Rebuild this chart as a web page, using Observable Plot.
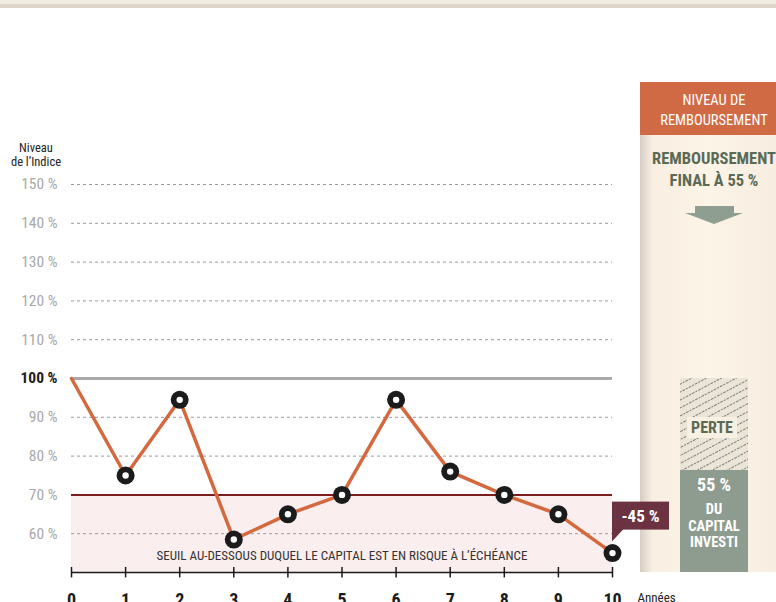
<!DOCTYPE html>
<html><head><meta charset="utf-8">
<script src="https://cdn.jsdelivr.net/npm/d3@7"></script>
<script src="https://cdn.jsdelivr.net/npm/@observablehq/plot@0.6"></script>
<style>
body{margin:0;background:#fff;}
#chart{position:relative;width:776px;height:602px;overflow:hidden;}
svg{display:block;}
</style></head><body>
<div id="chart"></div>
<script>
const years = [0,1,2,3,4,5,6,7,8,9,10];
const indexLevel = [100,75,94.5,58.5,65,70,94.5,76,70,65,55];
const gridTicks = [60,80,90,110,120,130,140,150];
const grayTickLabels = [60,70,80,90,110,120,130,140,150];
const boldTickLabels = [100];
const initialLevel = 100;
const barrierLevel = 70;
const finalLevel = 55;
const lossLabel = "-45 %";
const barrierText = "SEUIL AU-DESSOUS DUQUEL LE CAPITAL EST EN RISQUE À L’ÉCHÉANCE";

const data = years.map((y,i)=>({year:y, level:indexLevel[i]}));
const FONT = "'Liberation Sans Narrow','Roboto Condensed',Roboto,sans-serif";

const chart = Plot.plot({
  width:776, height:602,
  marginLeft:71, marginRight:164, marginTop:184, marginBottom:30,
  style:{fontFamily:FONT, background:"transparent", overflow:"visible"},
  x:{domain:[0,10], axis:null},
  y:{domain:[50,150], axis:null},
  marks:[
    Plot.rect([{x1:0,x2:10,y1:50,y2:barrierLevel}], {x1:"x1",x2:"x2",y1:"y1",y2:"y2",fill:"#fbeeee"}),
    Plot.ruleY(gridTicks, {x1:0, x2:10, stroke:"#9a9a9a", strokeWidth:1, strokeDasharray:"3,3"}),
    Plot.ruleY([initialLevel], {x1:0, x2:10, stroke:"#a9a9a9", strokeWidth:3}),
    Plot.ruleY([barrierLevel], {x1:0, x2:10, stroke:"#7b1c1e", strokeWidth:2}),
    Plot.ruleY([50], {x1:0, x2:10, stroke:"#1b1b1b", strokeWidth:1.5}),
    Plot.ruleX(years, {y1:51.3, y2:48.6, stroke:"#1b1b1b", strokeWidth:1.5}),
    Plot.text(years, {x:d=>d, y:50, dy:21, lineAnchor:"top", text:d=>String(d), fontSize:18, fontWeight:"bold", fill:"#1b1b1b"}),
    Plot.text(["Années"], {x:10, y:50, dx:25, dy:25, textAnchor:"start", text:d=>d, fontSize:13, fill:"#222"}),
    Plot.text(grayTickLabels, {x:0, y:d=>d, dx:-14, textAnchor:"end", text:d=>d+" %", fontSize:15.5, fill:"#a8a8a8"}),
    Plot.text(boldTickLabels, {x:0, y:d=>d, dx:-14, textAnchor:"end", text:d=>d+" %", fontSize:15.5, fontWeight:"bold", fill:"#1b1b1b"}),
    Plot.text([barrierText], {x:5, y:54.2, text:d=>d, fontSize:13, fill:"#333"}),
    Plot.line(data, {x:"year", y:"level", stroke:"#d4693f", strokeWidth:3.5}),
    Plot.dot(data.filter(d=>d.year>0), {x:"year", y:"level", r:9, fill:"#1b1b1b"}),
    Plot.dot(data.filter(d=>d.year>0), {x:"year", y:"level", r:3.2, fill:"#fff"})
  ]
});
document.getElementById("chart").appendChild(chart);

const svg = d3.select(chart);
const xs = chart.scale("x"), ys = chart.scale("y");

svg.append("text").attr("x",36).attr("y",152).attr("text-anchor","middle").attr("font-size",12.5).attr("fill","#222").attr("font-family",FONT).text("Niveau");
svg.append("text").attr("x",36).attr("y",166).attr("text-anchor","middle").attr("font-size",12.5).attr("fill","#222").attr("font-family",FONT).text("de l’Indice");

// top stripe
svg.append("rect").attr("x",0).attr("y",0).attr("width",776).attr("height",4).attr("fill","#efebe3");
svg.append("rect").attr("x",0).attr("y",4).attr("width",776).attr("height",4).attr("fill","#ddd5c8");

// right panel
const defs = svg.append("defs");
const grad = defs.append("linearGradient").attr("id","pbg").attr("x1","0").attr("x2","1").attr("y1","0").attr("y2","0");
grad.append("stop").attr("offset","0%").attr("stop-color","#d8cdc5");
grad.append("stop").attr("offset","9%").attr("stop-color","#f8eee2");
grad.append("stop").attr("offset","50%").attr("stop-color","#fdf4e8");
grad.append("stop").attr("offset","100%").attr("stop-color","#f7ede1");
const pat = defs.append("pattern").attr("id","hatch").attr("patternUnits","userSpaceOnUse").attr("width",7).attr("height",7).attr("patternTransform","rotate(-28)");
pat.append("rect").attr("width",7).attr("height",7).attr("fill","#ebe5d7");
pat.append("line").attr("x1",0).attr("y1",0.5).attr("x2",7).attr("y2",0.5).attr("stroke","#7d7d7d").attr("stroke-width",1).attr("stroke-dasharray","2,1");

const P = svg.append("g").attr("font-family",FONT);
const pTop = 82, pBottom = ys.apply(50);
P.append("rect").attr("x",640).attr("y",pTop).attr("width",136).attr("height",pBottom-pTop).attr("fill","url(#pbg)");
P.append("rect").attr("x",640).attr("y",pTop).attr("width",136).attr("height",53).attr("fill","#d06a45");
P.append("text").attr("x",714).attr("y",105).attr("text-anchor","middle").attr("font-size",14.5).attr("fill","#fff").text("NIVEAU DE");
P.append("text").attr("x",714).attr("y",125).attr("text-anchor","middle").attr("font-size",14.5).attr("fill","#fff").text("REMBOURSEMENT");
P.append("text").attr("x",714).attr("y",164).attr("text-anchor","middle").attr("font-size",16.5).attr("font-weight","bold").attr("fill","#5b6a55").text("REMBOURSEMENT");
P.append("text").attr("x",714).attr("y",186).attr("text-anchor","middle").attr("font-size",16.5).attr("font-weight","bold").attr("fill","#5b6a55").text("FINAL À " + finalLevel + " %");
P.append("path").attr("d","M695,206 L734,206 L734,213 L743,213 L714,224 L685,213 L695,213 Z").attr("fill","#8e9e90");

const y100 = ys.apply(initialLevel);
const ySplit = 470;
P.append("rect").attr("x",680).attr("y",y100).attr("width",68).attr("height",ySplit-y100).attr("fill","url(#hatch)");
P.append("rect").attr("x",687).attr("y",417).attr("width",50).attr("height",21).attr("fill","#f8f1e3");
P.append("text").attr("x",712).attr("y",433).attr("text-anchor","middle").attr("font-size",16).attr("font-weight","bold").attr("fill","#5b6a55").text("PERTE");
P.append("rect").attr("x",680).attr("y",ySplit).attr("width",68).attr("height",pBottom-ySplit).attr("fill","#8e9c90");
P.append("text").attr("x",714).attr("y",491).attr("text-anchor","middle").attr("font-size",18).attr("font-weight","bold").attr("fill","#fff").text(finalLevel + " %");
[["DU",514],["CAPITAL",530.5],["INVESTI",547]].forEach(([t,y])=>{
  P.append("text").attr("x",714).attr("y",y).attr("text-anchor","middle").attr("font-size",14.5).attr("font-weight","bold").attr("fill","#fff").text(t);
});

// loss label (on top of panel)
const px = xs.apply(10), py = ys.apply(finalLevel);
const lg = svg.append("g");
lg.append("path").attr("d",`M${px},${py-24} L${px},${py-11} L${px+12},${py-24} Z`).attr("fill","#6b3242");
lg.append("rect").attr("x",px).attr("y",py-51).attr("width",57).attr("height",28).attr("fill","#6b3242");
lg.append("text").attr("x",px+28.5).attr("y",py-31).attr("text-anchor","middle").attr("font-size",17).attr("font-weight","bold").attr("fill","#fff").attr("font-family",FONT).text(lossLabel);
</script>
</body></html>
